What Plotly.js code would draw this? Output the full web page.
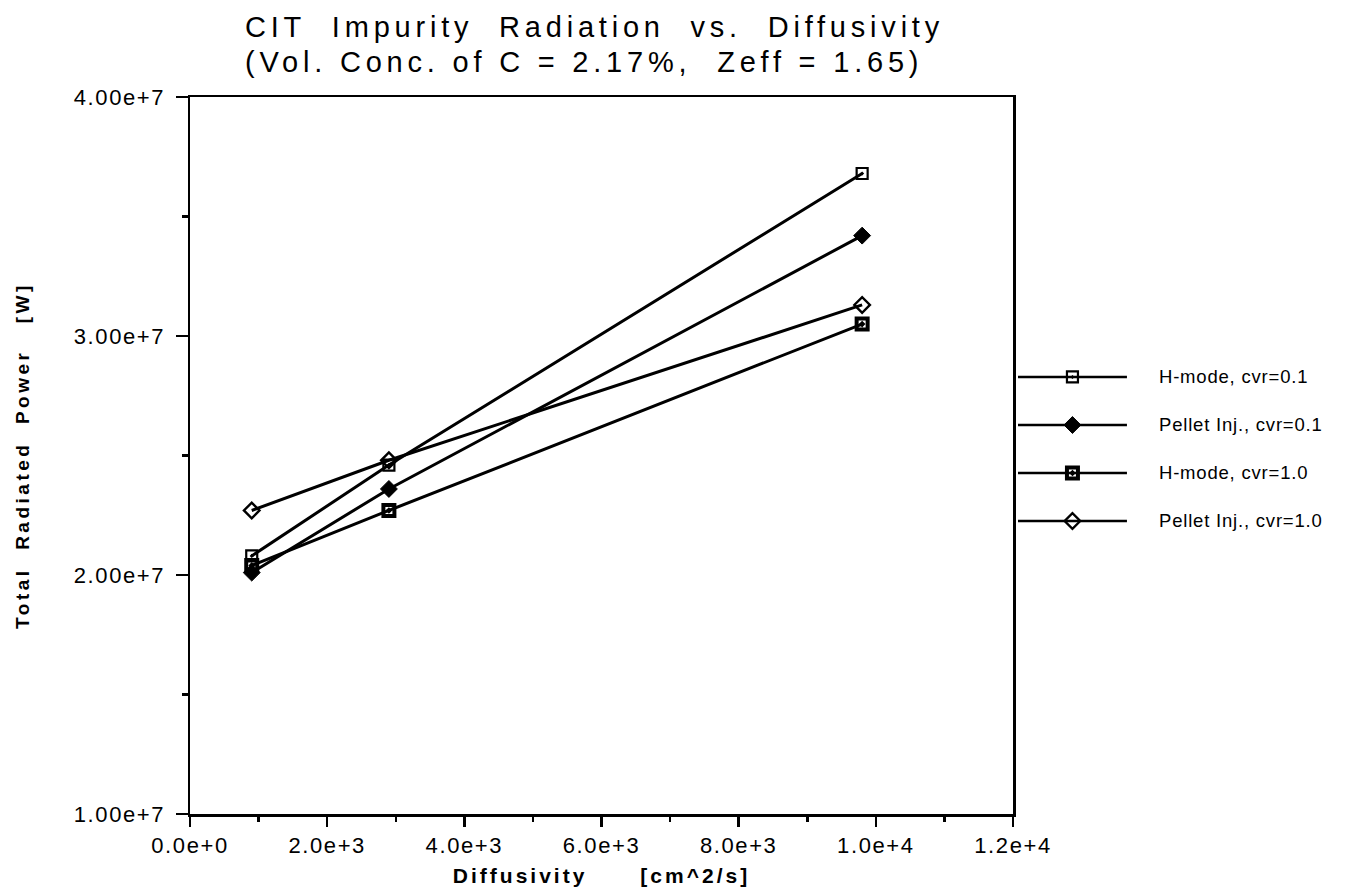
<!DOCTYPE html>
<html>
<head>
<meta charset="utf-8">
<script src="https://cdn.plot.ly/plotly-3.0.1.min.js"></script>
<style>
  html, body { margin: 0; padding: 0; background: #fff; }
  #chart { width: 1365px; height: 896px; }
</style>
</head>
<body>
<div id="chart"></div>
<script>
// Diffusivity [cm^2/s] and total radiated power [W] for each case
const diffusivity = [900, 2900, 9800];
const hmodeCvr01 = [2.08e7, 2.46e7, 3.68e7];
const pelletCvr01 = [2.01e7, 2.36e7, 3.42e7];
const hmodeCvr10 = [2.04e7, 2.27e7, 3.05e7];
const pelletCvr10 = [2.27e7, 2.48e7, 3.13e7];

const seriesNames = ['H-mode, cvr=0.1', 'Pellet Inj., cvr=0.1', 'H-mode, cvr=1.0', 'Pellet Inj., cvr=1.0'];
const seriesValues = [hmodeCvr01, pelletCvr01, hmodeCvr10, pelletCvr10];

const titleLines = ['CIT\u00a0\u00a0Impurity\u00a0\u00a0Radiation\u00a0\u00a0vs.\u00a0\u00a0Diffusivity',
                    '(Vol.\u00a0Conc.\u00a0of\u00a0C\u00a0=\u00a02.17%,\u00a0\u00a0Zeff\u00a0=\u00a01.65)'];
const xTitle = 'Diffusivity\u00a0\u00a0\u00a0\u00a0\u00a0\u00a0[cm^2/s]';
const yTitle = 'Total\u00a0\u00a0Radiated\u00a0\u00a0Power\u00a0\u00a0\u00a0[W]';

const FONT = 'Liberation Sans, Arial, Helvetica, sans-serif';

// marker styles per series
const markerStyles = [
  {symbol: 'square-open-dot', size: 11, color: '#000', line: {color: '#000', width: 2.2}},
  {symbol: 'diamond', size: 13, color: '#000', line: {color: '#000', width: 1}},
  {symbol: 'square-open-dot', size: 11, color: '#000', line: {color: '#000', width: 4}},
  {symbol: 'diamond-open', size: 12, color: '#000', line: {color: '#000', width: 2.4}}
];

const traces = [];
seriesValues.forEach((vals, i) => {
  traces.push({
    type: 'scatter', mode: 'lines+markers', name: seriesNames[i],
    x: diffusivity, y: vals, xaxis: 'x', yaxis: 'y',
    line: {color: '#000', width: 3},
    marker: markerStyles[i],
    showlegend: false, cliponaxis: false
  });
});

// legend samples: a long line with the series marker in its middle
seriesNames.forEach((name, i) => {
  const m = Object.assign({}, markerStyles[i]);
  m.opacity = [0, 1, 0];
  traces.push({
    type: 'scatter', mode: 'lines+markers', name: name,
    x: [0, 0.5, 1], y: [i, i, i], xaxis: 'x2', yaxis: 'y2',
    line: {color: '#000', width: 2.5},
    marker: m, showlegend: false, hoverinfo: 'skip', cliponaxis: false
  });
});

const tickFont = {family: FONT, size: 22, color: '#000'};

const annotations = [
  {text: titleLines[0], xref: 'paper', yref: 'paper', x: 0.0463, y: 1.0977,
   xanchor: 'left', yanchor: 'middle', align: 'left', showarrow: false,
   font: {family: FONT, size: 29, color: '#000'}},
  {text: titleLines[1], xref: 'paper', yref: 'paper', x: 0.0463, y: 1.0488,
   xanchor: 'left', yanchor: 'middle', align: 'left', showarrow: false,
   font: {family: FONT, size: 29, color: '#000'}}
];
seriesNames.forEach((name, i) => {
  annotations.push({text: name, xref: 'paper', yref: 'y2', x: 0.8442, y: i,
    xanchor: 'left', yanchor: 'middle', align: 'left', showarrow: false,
    font: {family: FONT, size: 18.5, color: '#000'}});
});

const layout = {
  width: 1365, height: 896,
  margin: {l: 190, r: 30, t: 97, b: 82},
  paper_bgcolor: '#fff', plot_bgcolor: '#fff',
  showlegend: false,
  xaxis: {
    domain: [0, 0.7188], range: [0, 12000], anchor: 'y',
    tickvals: [0, 2000, 4000, 6000, 8000, 10000, 12000], tickformat: '.1e',
    ticks: 'outside', ticklen: 10, tickwidth: 2.5, tickcolor: '#000',
    minor: {dtick: 1000, tick0: 0, ticks: 'outside', ticklen: 5, tickwidth: 2.5, tickcolor: '#000'},
    showline: true, linewidth: 2.5, linecolor: '#000', mirror: true,
    showgrid: false, zeroline: false, tickfont: tickFont, ticklabelstandoff: 0,
    title: {text: xTitle, standoff: 12,
            font: {family: FONT, size: 21, color: '#000', weight: 'bold'}}
  },
  yaxis: {
    range: [1e7, 4e7], anchor: 'x',
    tickvals: [1e7, 2e7, 3e7, 4e7], tickformat: '.2e',
    ticks: 'outside', ticklen: 12, tickwidth: 2.5, tickcolor: '#000',
    minor: {dtick: 5e6, tick0: 0, ticks: 'outside', ticklen: 6, tickwidth: 2.5, tickcolor: '#000'},
    showline: true, linewidth: 2.5, linecolor: '#000', mirror: true,
    showgrid: false, zeroline: false, tickfont: tickFont, ticklabelstandoff: 6,
    title: {text: yTitle, standoff: 51,
            font: {family: FONT, size: 19, color: '#000', weight: 'bold'}}
  },
  xaxis2: {domain: [0.7231, 0.8183], range: [0, 1], anchor: 'y2', visible: false, fixedrange: true},
  yaxis2: {domain: [0.3752, 0.643], range: [3.5, -0.5], anchor: 'x2', visible: false, fixedrange: true},
  annotations: annotations
};

Plotly.newPlot('chart', traces, layout, {displayModeBar: false, staticPlot: true}).then(() => {
  // widen the lettering the way the old plotting output spaced it
  document.querySelectorAll('.xtick text, .ytick text').forEach(t => { t.style.letterSpacing = '1.6px'; });
  document.querySelectorAll('.g-xtitle text').forEach(t => { t.style.letterSpacing = '3px'; });
  document.querySelectorAll('.g-ytitle text').forEach(t => { t.style.letterSpacing = '3.5px'; });
  const ann = document.querySelectorAll('.annotation-text');
  ann.forEach((t, i) => { t.style.letterSpacing = i < 2 ? '4.8px' : '0.8px'; });
});
</script>
</body>
</html>
